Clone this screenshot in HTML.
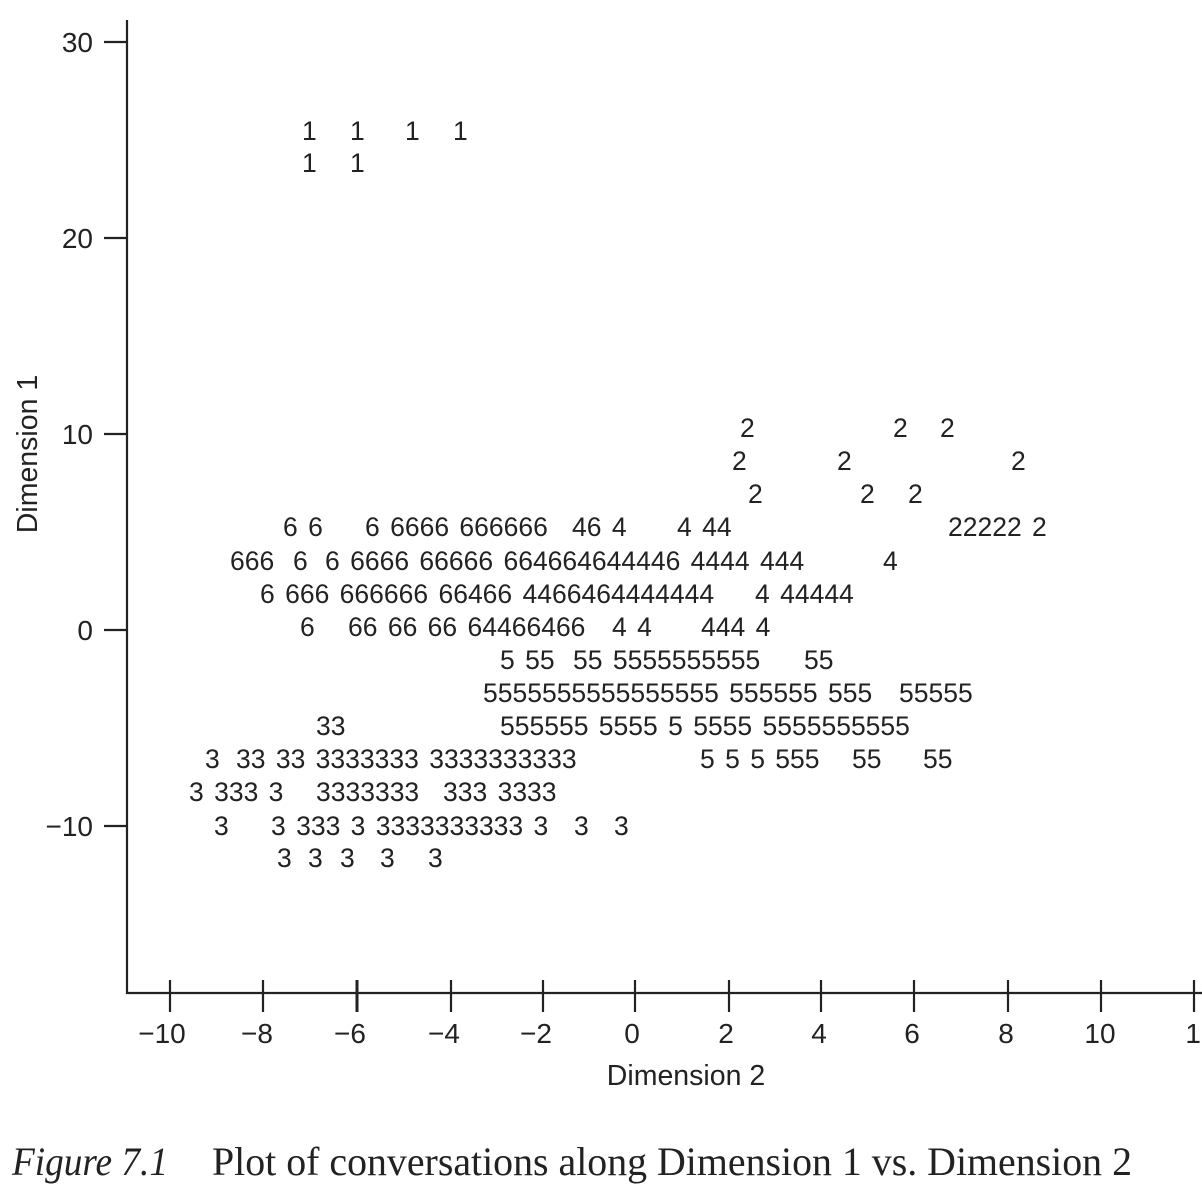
<!DOCTYPE html>
<html><head><meta charset="utf-8"><style>
html,body{margin:0;padding:0;background:#fff;}
svg{display:block;}
text{font-family:"Liberation Sans",sans-serif;fill:#222;}
.d{font-size:26.5px;white-space:pre;word-spacing:3px;}
.t{font-size:28px;}
.a{font-size:28.5px;}
</style></head><body>
<svg width="1202" height="1188" viewBox="0 0 1202 1188" xmlns="http://www.w3.org/2000/svg">
<g stroke="#222" stroke-width="2.2" fill="none">
<polyline points="127,20 127,993 1202,993"/>
<line x1="104" y1="42" x2="127" y2="42"/><line x1="104" y1="238" x2="127" y2="238"/>
<line x1="104" y1="434" x2="127" y2="434"/><line x1="104" y1="630" x2="127" y2="630"/>
<line x1="104" y1="826" x2="127" y2="826"/>
<line x1="170" y1="980" x2="170" y2="1012"/><line x1="263" y1="980" x2="263" y2="1012"/>
<line x1="357" y1="980" x2="357" y2="1012" stroke-width="3"/><line x1="451" y1="980" x2="451" y2="1012"/>
<line x1="543" y1="980" x2="543" y2="1012"/><line x1="635" y1="980" x2="635" y2="1012"/>
<line x1="729" y1="980" x2="729" y2="1012"/><line x1="821" y1="980" x2="821" y2="1012"/>
<line x1="914" y1="980" x2="914" y2="1012"/><line x1="1008" y1="980" x2="1008" y2="1012"/>
<line x1="1101" y1="980" x2="1101" y2="1012"/><line x1="1194" y1="980" x2="1194" y2="1012"/>
</g>
<g class="t" text-anchor="end">
<text x="93" y="52">30</text><text x="93" y="248">20</text><text x="93" y="444">10</text>
<text x="93" y="640">0</text><text x="93" y="836">−10</text>
</g>
<g class="t" text-anchor="middle">
<text x="162" y="1043">−10</text><text x="257" y="1043">−8</text><text x="350" y="1043">−6</text>
<text x="444" y="1043">−4</text><text x="536" y="1043">−2</text><text x="632" y="1043">0</text>
<text x="726" y="1043">2</text><text x="819" y="1043">4</text><text x="912" y="1043">6</text>
<text x="1006" y="1043">8</text><text x="1100" y="1043">10</text><text x="1201" y="1043">12</text>
</g>
<g class="a" text-anchor="middle">
<text x="686" y="1085">Dimension 2</text>
<text transform="translate(37,454) rotate(-90)" x="0" y="0">Dimension 1</text>
</g>
<g class="d">
<text x="302" y="140">1</text><text x="350" y="140">1</text><text x="405" y="140">1</text><text x="453" y="140">1</text>
<text x="302" y="172">1</text><text x="350" y="172">1</text>
<text x="740" y="437">2</text><text x="893" y="437">2</text><text x="940" y="437">2</text>
<text x="732" y="470">2</text><text x="837" y="470">2</text><text x="1011" y="470">2</text>
<text x="748" y="503">2</text><text x="860" y="503">2</text><text x="908" y="503">2</text>
<text x="283" y="536">6 6</text><text x="365" y="536">6 6666 666666</text><text x="572" y="536">46 4</text><text x="677" y="536">4 44</text><text x="948" y="536">22222 2</text>
<text x="230" y="570">666</text><text x="293" y="570">6</text><text x="325" y="570">6 6666 66666 664664644446 4444 444</text><text x="883" y="570">4</text>
<text x="260" y="603">6 666 666666 66466 4466464444444</text><text x="755" y="603">4 44444</text>
<text x="300" y="636">6</text><text x="348" y="636">66 66 66 64466466</text><text x="612" y="636">4 4</text><text x="701" y="636">444 4</text>
<text x="500" y="669">5 55</text><text x="573" y="669">55 5555555555</text><text x="804" y="669">55</text>
<text x="483" y="702">5555555555555555 555555 555</text><text x="899" y="702">55555</text>
<text x="316" y="735">33</text><text x="500" y="735">555555 5555 5 5555 5555555555</text>
<text x="205" y="768">3</text><text x="236" y="768">33 33 3333333 3333333333</text><text x="700" y="768">5 5 5 555</text><text x="852" y="768">55</text><text x="923" y="768">55</text>
<text x="189" y="801">3 333 3</text><text x="316" y="801">3333333</text><text x="443" y="801">333 3333</text>
<text x="214" y="835">3</text><text x="271" y="835">3 333 3 3333333333 3</text><text x="574" y="835">3</text><text x="614" y="835">3</text>
<text x="277" y="867">3</text><text x="308" y="867">3</text><text x="340" y="867">3</text><text x="380" y="867">3</text><text x="428" y="867">3</text>
</g>
<text x="12" y="1175" font-style="italic" textLength="156" lengthAdjust="spacingAndGlyphs" style="font-family:'Liberation Serif',serif;font-size:40px;">Figure 7.1</text>
<text x="212" y="1175" textLength="920" lengthAdjust="spacingAndGlyphs" style="font-family:'Liberation Serif',serif;font-size:40px;">Plot of conversations along Dimension 1 vs. Dimension 2</text>
</svg>
</body></html>
